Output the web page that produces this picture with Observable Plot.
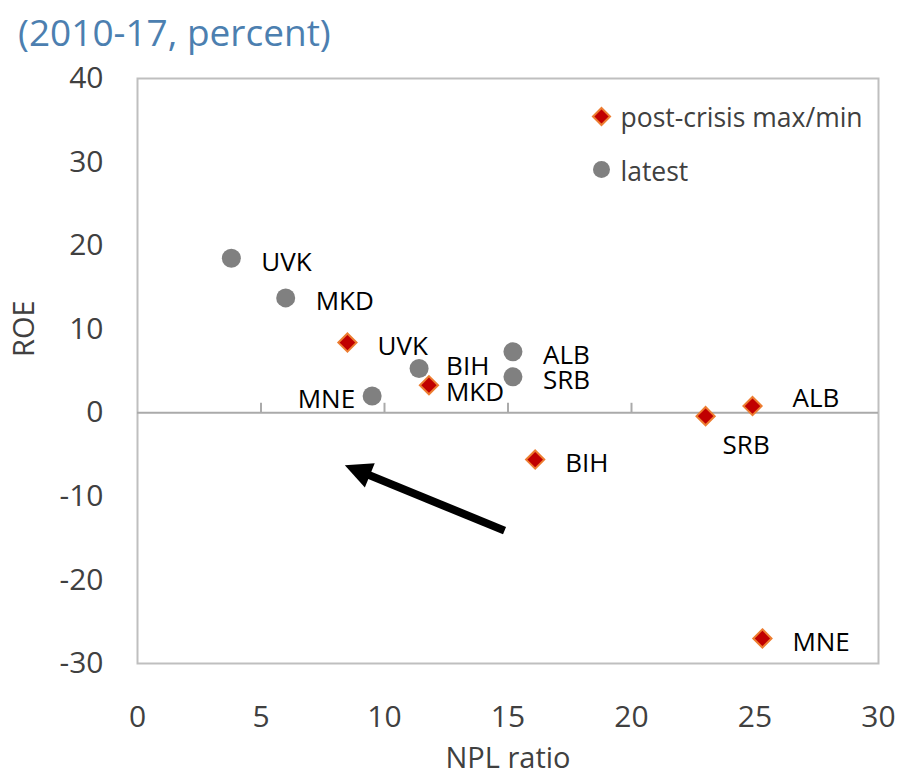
<!DOCTYPE html>
<html><head><meta charset="utf-8">
<script src="https://cdn.jsdelivr.net/npm/d3@7"></script>
<script src="https://cdn.jsdelivr.net/npm/@observablehq/plot@0.6"></script>
<style>
body{margin:0;background:#fff;font-family:"Open Sans",sans-serif;}
#title{height:60px;box-sizing:border-box;padding:10px 0 0 18px;font-size:37px;color:#4c7fb0;line-height:44px;white-space:nowrap;overflow:hidden}
</style></head><body>
<div id="title">(2010-17, percent)</div>
<div id="chart"></div>
<script>
// latest values
const latestCountries = ["UVK","MKD","BIH","MNE","ALB","SRB"];
const latestNPL = [3.8, 6.0, 11.4, 9.5, 15.2, 15.2];
const latestROE = [18.5, 13.75, 5.3, 2.0, 7.3, 4.3];
// post-crisis max/min
const crisisCountries = ["UVK","MKD","BIH","SRB","ALB","MNE"];
const crisisNPL = [8.5, 11.8, 16.1, 23.0, 24.9, 25.3];
const crisisROE = [8.4, 3.3, -5.6, -0.4, 0.8, -27.0];
// axes
const xTicks = [0,5,10,15,20,25,30];
const yTicks = [-30,-20,-10,0,10,20,30,40];
const seriesNames = ["post-crisis max/min", "latest"];
const xTitle = "NPL ratio";
const yTitle = "ROE";
// trend arrow (tail -> head base)
const trendNPL = [14.86, 9.33];
const trendROE = [-14.1, -7.4];

const latest = latestCountries.map((n,i)=>({name:n, npl:latestNPL[i], roe:latestROE[i]}));
const crisis = crisisCountries.map((n,i)=>({name:n, npl:crisisNPL[i], roe:crisisROE[i]}));
const trend = [{x1:trendNPL[0], y1:trendROE[0], x2:trendNPL[1], y2:trendROE[1]}];

const FS = 26;
const TFS = 30;
function labels(data, names, opts) {
  return Plot.text(data.filter(d => names.includes(d.name)), {
    x:"npl", y:"roe", text:"name", textAnchor:"start", fill:"#000", fontSize:FS, ...opts});
}
function headMarker(color, context) {
  const ns = "http://www.w3.org/2000/svg";
  const doc = (context && context.document) || document;
  const m = doc.createElementNS(ns, "marker");
  m.setAttribute("viewBox", "-10 -15 40 30");
  m.setAttribute("markerWidth", "40");
  m.setAttribute("markerHeight", "30");
  m.setAttribute("markerUnits", "userSpaceOnUse");
  m.setAttribute("orient", "auto");
  m.setAttribute("refX", "0");
  m.setAttribute("refY", "0");
  const p = doc.createElementNS(ns, "path");
  p.setAttribute("d", "M25,0L-2,-13L-2,13Z");
  p.setAttribute("fill", color);
  p.setAttribute("stroke", "none");
  m.appendChild(p);
  return m;
}
const tickUp = {draw(ctx){ ctx.moveTo(0,0); ctx.lineTo(0,-10); }};

const chart = Plot.plot({
  width: 903, height: 715,
  marginTop: 18, marginLeft: 137, marginRight: 25, marginBottom: 112,
  style: {fontFamily:"Open Sans", fontSize:"26px", color:"#404040", background:"#fff", overflow:"visible"},
  x: {domain:[0,30]},
  y: {domain:[-30,40]},
  marks: [
    Plot.frame({stroke:"#bfbfbf", strokeWidth:2}),
    Plot.ruleY([0], {stroke:"#aaaaaa", strokeWidth:2}),
    Plot.dot(xTicks.slice(1,-1), {x:d=>d, y:0, symbol:tickUp, stroke:"#aaaaaa", strokeWidth:2, fill:"none"}),
    Plot.axisY({ticks:yTicks, tickSize:0, tickPadding:34, tickFormat:d=>String(d), label:null, fontSize:TFS}),
    Plot.axisX({ticks:xTicks, tickSize:0, tickPadding:42, tickFormat:d=>String(d), label:null, fontSize:TFS}),
    Plot.text([xTitle], {frameAnchor:"bottom", dy:95, lineAnchor:"middle", fontSize:29, fill:"#404040"}),
    Plot.text([yTitle], {frameAnchor:"left", rotate:-90, dx:-113, dy:-14, fontSize:29, fill:"#404040"}),
    Plot.link(trend, {x1:"x1", y1:"y1", x2:"x2", y2:"y2", stroke:"#000", strokeWidth:8, markerEnd:headMarker}),
    Plot.dot(latest, {x:"npl", y:"roe", r:9.5, fill:"#808080"}),
    Plot.dot(crisis, {x:"npl", y:"roe", symbol:"diamond2", r:8.2, fill:"#c00000", stroke:"#ed7d31", strokeWidth:2}),
    // latest labels
    labels(latest, ["UVK","MKD","ALB","SRB"], {dx:30, dy:4}),
    labels(latest, ["BIH"], {dx:27, dy:-2}),
    labels(latest, ["MNE"], {dx:-17, dy:4, textAnchor:"end"}),
    // post-crisis labels
    labels(crisis, ["UVK","BIH","MNE"], {dx:30, dy:4}),
    labels(crisis, ["MKD"], {dx:17, dy:7}),
    labels(crisis, ["SRB"], {dx:17, dy:30}),
    labels(crisis, ["ALB"], {dx:40, dy:-7}),
    // legend
    Plot.dot([seriesNames[0]], {frameAnchor:"top-left", dx:464, dy:38, symbol:"diamond2", r:7.7, fill:"#c00000", stroke:"#ed7d31", strokeWidth:2}),
    Plot.dot([seriesNames[1]], {frameAnchor:"top-left", dx:464, dy:91, r:8.5, fill:"#808080"}),
    Plot.text([seriesNames[0]], {frameAnchor:"top-left", dx:483, dy:40, lineAnchor:"middle", text:d=>d, textAnchor:"start", fontSize:26.5, fill:"#404040"}),
    Plot.text([seriesNames[1]], {frameAnchor:"top-left", dx:483, dy:94, lineAnchor:"middle", text:d=>d, textAnchor:"start", fontSize:26.5, fill:"#404040"})
  ]
});
document.getElementById("chart").appendChild(chart);
</script>
</body></html>
